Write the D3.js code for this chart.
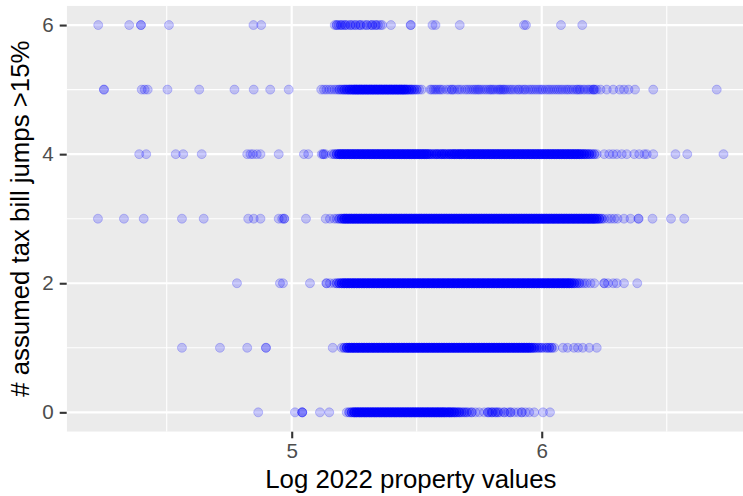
<!DOCTYPE html>
<html>
<head>
<meta charset="utf-8">
<script src="https://cdn.jsdelivr.net/npm/d3@7"></script>
<style>
  html, body { margin: 0; padding: 0; background: #ffffff; }
  svg { display: block; }
</style>
</head>
<body>
<svg id="chart" width="743" height="496"></svg>
<script>
// Axis labels and ticks
const xTitle = "Log 2022 property values";
const yTitle = "# assumed tax bill jumps >15%";
const xTickValues = [5, 6];
const yTickValues = [0, 2, 4, 6];
const xMinorValues = [4.5, 5.5, 6.5];
const yMinorValues = [1, 3, 5];

// Each entry: [log10 of 2022 property value, number of properties at that value]
const jumps0 = [
  [4.866,1],[5.013,1],[5.042,3],[5.113,1],[5.150,1],
  [5.22,1],[5.23,2],[5.24,3],[5.25,5],[5.26,5],[5.27,5],[5.28,5],[5.29,5],[5.30,5],
  [5.31,5],[5.32,5],[5.33,5],[5.34,5],[5.35,5],[5.36,5],[5.37,5],[5.38,5],[5.39,5],[5.40,5],
  [5.41,5],[5.42,5],[5.43,5],[5.44,5],[5.45,5],[5.46,5],[5.47,5],[5.48,5],[5.49,5],[5.50,5],
  [5.51,5],[5.52,5],[5.53,5],[5.54,5],[5.55,5],[5.56,5],[5.57,5],[5.58,5],[5.59,5],[5.60,5],
  [5.61,5],[5.62,4],[5.63,5],[5.64,4],[5.65,4],[5.66,3],[5.67,3],[5.68,2],[5.69,2],
  [5.70,2],[5.71,1],[5.72,2],[5.735,1],[5.75,1],[5.77,1],[5.785,2],[5.79,1],[5.80,2],
  [5.805,1],[5.815,2],[5.825,2],[5.835,1],[5.85,2],[5.865,1],[5.875,2],[5.89,1],[5.905,1],
  [5.92,2],[5.935,1],[5.95,1],[5.97,1],[6.005,1],[6.033,1]
];
const jumps1 = [
  [4.561,1],[4.713,1],[4.822,1],[4.897,2],[5.164,1],
  [5.20,1],[5.21,2],[5.22,4],[5.23,5],[5.24,5],[5.25,5],[5.26,5],[5.27,5],[5.28,5],[5.29,5],[5.30,5],
  [5.31,5],[5.32,5],[5.33,5],[5.34,5],[5.35,5],[5.36,5],[5.37,5],[5.38,5],[5.39,5],[5.40,5],
  [5.41,5],[5.42,5],[5.43,5],[5.44,5],[5.45,5],[5.46,5],[5.47,5],[5.48,5],[5.49,5],[5.50,5],
  [5.51,5],[5.52,5],[5.53,5],[5.54,5],[5.55,5],[5.56,5],[5.57,5],[5.58,5],[5.59,5],[5.60,5],
  [5.61,5],[5.62,5],[5.63,5],[5.64,5],[5.65,5],[5.66,5],[5.67,5],[5.68,5],[5.69,5],[5.70,5],
  [5.71,5],[5.72,5],[5.73,5],[5.74,5],[5.75,5],[5.76,5],[5.77,5],[5.78,5],[5.79,5],[5.80,5],
  [5.81,5],[5.82,5],[5.83,5],[5.84,5],[5.85,5],[5.86,5],[5.87,5],[5.88,5],[5.89,5],[5.90,5],
  [5.91,5],[5.92,5],[5.93,5],[5.94,5],[5.95,5],[5.96,4],[5.97,3],[5.98,2],[5.99,2],[6.00,2],
  [6.01,1],[6.02,2],[6.03,2],[6.04,2],[6.05,1],
  [6.085,1],[6.103,1],[6.129,1],[6.145,1],[6.164,1],[6.19,1],[6.22,1]
];
const jumps2 = [
  [4.781,1],[4.953,1],[4.965,1],[5.073,1],[5.139,2],[5.153,1],
  [5.17,1],[5.18,2],[5.19,3],[5.20,4],
  [5.21,5],[5.22,5],[5.23,5],[5.24,5],[5.25,5],[5.26,5],[5.27,5],[5.28,5],[5.29,5],[5.30,5],
  [5.31,5],[5.32,5],[5.33,5],[5.34,5],[5.35,5],[5.36,5],[5.37,5],[5.38,5],[5.39,5],[5.40,5],
  [5.41,5],[5.42,5],[5.43,5],[5.44,5],[5.45,5],[5.46,5],[5.47,5],[5.48,5],[5.49,5],[5.50,5],
  [5.51,5],[5.52,5],[5.53,5],[5.54,5],[5.55,5],[5.56,5],[5.57,5],[5.58,5],[5.59,5],[5.60,5],
  [5.61,5],[5.62,5],[5.63,5],[5.64,5],[5.65,5],[5.66,5],[5.67,5],[5.68,5],[5.69,5],[5.70,5],
  [5.71,5],[5.72,5],[5.73,5],[5.74,5],[5.75,5],[5.76,5],[5.77,5],[5.78,5],[5.79,5],[5.80,5],
  [5.81,5],[5.82,5],[5.83,5],[5.84,5],[5.85,5],[5.86,5],[5.87,5],[5.88,5],[5.89,5],[5.90,5],
  [5.91,5],[5.92,5],[5.93,5],[5.94,5],[5.95,5],[5.96,5],[5.97,5],[5.98,5],[5.99,5],[6.00,5],
  [6.01,5],[6.02,5],[6.03,5],[6.04,5],[6.05,5],[6.06,5],[6.07,5],[6.08,5],[6.09,5],[6.10,5],
  [6.11,5],[6.12,4],[6.13,3],[6.14,2],[6.15,2],[6.16,1],[6.17,1],[6.18,1],[6.195,1],[6.21,1],
  [6.25,2],[6.265,1],[6.286,1],[6.30,1],[6.329,1],[6.382,1]
];
const jumps3 = [
  [4.225,1],[4.329,1],[4.408,1],[4.561,1],[4.648,1],[4.826,1],[4.848,1],[4.875,1],
  [4.948,1],[4.962,1],[4.970,2],[5.057,1],[5.136,1],[5.153,1],[5.17,1],
  [5.18,1],[5.19,2],[5.20,3],
  [5.21,5],[5.22,5],[5.23,5],[5.24,5],[5.25,5],[5.26,5],[5.27,5],[5.28,5],[5.29,5],[5.30,5],
  [5.31,5],[5.32,5],[5.33,5],[5.34,5],[5.35,5],[5.36,5],[5.37,5],[5.38,5],[5.39,5],[5.40,5],
  [5.41,5],[5.42,5],[5.43,5],[5.44,5],[5.45,5],[5.46,5],[5.47,5],[5.48,5],[5.49,5],[5.50,5],
  [5.51,5],[5.52,5],[5.53,5],[5.54,5],[5.55,5],[5.56,5],[5.57,5],[5.58,5],[5.59,5],[5.60,5],
  [5.61,5],[5.62,5],[5.63,5],[5.64,5],[5.65,5],[5.66,5],[5.67,5],[5.68,5],[5.69,5],[5.70,5],
  [5.71,5],[5.72,5],[5.73,5],[5.74,5],[5.75,5],[5.76,5],[5.77,5],[5.78,5],[5.79,5],[5.80,5],
  [5.81,5],[5.82,5],[5.83,5],[5.84,5],[5.85,5],[5.86,5],[5.87,5],[5.88,5],[5.89,5],[5.90,5],
  [5.91,5],[5.92,5],[5.93,5],[5.94,5],[5.95,5],[5.96,5],[5.97,5],[5.98,5],[5.99,5],[6.00,5],
  [6.01,5],[6.02,5],[6.03,5],[6.04,5],[6.05,5],[6.06,5],[6.07,5],[6.08,5],[6.09,5],[6.10,5],
  [6.11,5],[6.12,5],[6.13,5],[6.14,5],[6.15,5],[6.16,5],[6.17,5],[6.18,5],[6.19,5],[6.20,5],
  [6.21,5],[6.22,4],[6.23,3],[6.24,2],[6.25,1],
  [6.265,1],[6.277,1],[6.29,1],[6.303,1],[6.329,1],[6.355,1],[6.387,2],[6.443,1],[6.517,1],[6.570,1]
];
const jumps4 = [
  [4.390,1],[4.418,1],[4.536,1],[4.566,1],[4.640,1],[4.822,1],[4.835,1],[4.845,1],[4.860,1],
  [4.875,1],[4.948,1],[5.049,1],[5.066,1],[5.120,1],[5.127,2],[5.135,1],
  [5.16,1],[5.17,2],[5.18,3],
  [5.19,5],[5.20,5],[5.21,5],[5.22,5],[5.23,5],[5.24,5],[5.25,5],[5.26,5],[5.27,5],[5.28,5],
  [5.29,5],[5.30,5],[5.31,5],[5.32,5],[5.33,5],[5.34,5],[5.35,5],[5.36,5],[5.37,5],[5.38,5],
  [5.39,5],[5.40,5],[5.41,5],[5.42,5],[5.43,5],[5.44,5],[5.45,5],[5.46,5],[5.47,5],[5.48,5],
  [5.49,5],[5.50,5],[5.51,5],[5.52,5],[5.53,5],[5.54,5],[5.55,4],[5.56,3],[5.57,3],[5.58,4],
  [5.59,3],[5.60,4],[5.61,4],[5.62,3],[5.63,4],[5.64,4],[5.65,5],[5.66,4],[5.67,5],[5.68,5],
  [5.69,4],[5.70,5],
  [5.71,5],[5.72,5],[5.73,5],[5.74,5],[5.75,5],[5.76,5],[5.77,5],[5.78,5],[5.79,5],[5.80,5],
  [5.81,5],[5.82,5],[5.83,5],[5.84,5],[5.85,5],[5.86,5],[5.87,5],[5.88,5],[5.89,5],[5.90,5],
  [5.91,5],[5.92,5],[5.93,5],[5.94,5],[5.95,5],[5.96,5],[5.97,5],[5.98,5],[5.99,5],[6.00,5],
  [6.01,5],[6.02,5],[6.03,5],[6.04,5],[6.05,5],[6.06,5],[6.07,5],[6.08,5],[6.09,5],[6.10,5],
  [6.11,5],[6.12,5],[6.13,5],[6.14,5],[6.15,5],[6.16,4],[6.17,4],[6.18,3],[6.19,3],[6.20,2],
  [6.21,2],[6.22,1],
  [6.25,1],[6.27,1],[6.285,1],[6.30,1],[6.32,1],[6.34,1],[6.37,1],[6.39,1],[6.41,1],[6.42,1],
  [6.446,1],[6.535,1],[6.582,1],[6.727,1]
];
const jumps5 = [
  [4.249,2],[4.400,1],[4.412,1],[4.424,1],[4.503,1],[4.630,1],[4.771,1],[4.848,1],[4.914,1],[4.988,1],
  [5.118,1],[5.129,1],[5.139,1],[5.150,1],[5.160,1],[5.171,1],
  [5.18,1],[5.19,2],[5.20,2],[5.21,3],[5.22,3],[5.23,4],[5.24,4],
  [5.25,5],[5.26,5],[5.27,5],[5.28,5],[5.29,5],[5.30,5],[5.31,5],[5.32,5],[5.33,5],[5.34,5],
  [5.35,5],[5.36,5],[5.37,5],[5.38,5],[5.39,5],[5.40,5],[5.41,5],[5.42,5],[5.43,5],[5.44,5],
  [5.45,5],[5.46,4],[5.47,3],[5.48,3],[5.49,2],[5.50,2],[5.51,1],[5.52,1],
  [5.554,1],[5.560,1],[5.568,1],[5.575,1],[5.582,1],[5.590,1],[5.596,1],[5.605,1],[5.620,1],
  [5.630,1],[5.641,2],[5.650,1],[5.662,1],[5.670,1],[5.680,1],[5.693,1],[5.702,1],
  [5.711,1],[5.720,1],[5.728,1],[5.735,1],[5.742,1],[5.748,1],[5.754,1],[5.763,1],[5.772,1],
  [5.780,1],[5.789,1],[5.795,1],[5.801,1],[5.807,1],[5.815,1],[5.824,1],[5.830,1],[5.835,1],
  [5.841,1],[5.847,1],[5.852,1],[5.859,1],[5.868,1],[5.876,1],[5.884,1],[5.894,1],[5.905,1],
  [5.910,1],[5.920,1],[5.929,1],[5.935,1],[5.946,1],[5.955,1],[5.963,1],[5.972,1],[5.981,1],
  [5.990,1],[5.998,1],[6.005,1],[6.016,1],[6.025,1],[6.033,1],[6.042,1],[6.051,1],[6.060,1],
  [6.068,1],[6.077,1],[6.085,1],[6.095,1],[6.103,1],[6.110,1],[6.120,1],[6.128,1],[6.138,1],
  [6.143,1],[6.150,1],[6.155,1],[6.165,1],[6.172,1],[6.183,1],[6.190,1],[6.198,1],[6.207,2],
  [6.212,1],[6.220,1],[6.235,1],[6.260,1],[6.286,1],[6.312,1],[6.329,1],[6.347,1],[6.373,1],
  [6.446,1],[6.700,1]
];
const jumps6 = [
  [4.226,1],[4.350,1],[4.397,2],[4.509,1],[4.847,1],[4.878,1],
  [5.172,1],[5.180,2],[5.188,1],[5.197,2],[5.205,1],[5.214,2],[5.223,1],[5.235,2],[5.244,1],
  [5.255,2],[5.268,1],[5.275,2],[5.288,1],[5.300,2],[5.314,1],[5.322,2],[5.336,2],[5.345,1],
  [5.355,1],[5.362,1],[5.397,1],[5.476,2],[5.563,1],[5.575,1],[5.672,1],[5.929,1],[5.937,1],
  [6.077,1],[6.162,1]
];
const jumpLevels = [0, 1, 2, 3, 4, 5, 6];
const rowsByLevel = [jumps0, jumps1, jumps2, jumps3, jumps4, jumps5, jumps6];

// Layout
const W = 743, H = 496;
const panel = { left: 66.7, top: 5.7, right: 755, bottom: 431.7 };
const xDomain = [4.1, 6.853];
const yDomain = [-0.3, 6.3];
const FONT = "'Liberation Sans', Arial, Helvetica, sans-serif";

const svg = d3.select("#chart");
const x = d3.scaleLinear().domain(xDomain).range([panel.left, panel.right]);
const y = d3.scaleLinear().domain(yDomain).range([panel.bottom, panel.top]);

svg.append("rect").attr("x", 0).attr("y", 0).attr("width", W).attr("height", H).attr("fill", "#ffffff");

svg.append("defs").append("clipPath").attr("id", "panel-clip")
  .append("rect")
  .attr("x", panel.left).attr("y", panel.top)
  .attr("width", panel.right - panel.left).attr("height", panel.bottom - panel.top);

const plot = svg.append("g").attr("clip-path", "url(#panel-clip)");

// Panel background
plot.append("rect")
  .attr("x", panel.left).attr("y", panel.top)
  .attr("width", panel.right - panel.left).attr("height", panel.bottom - panel.top)
  .attr("fill", "#EBEBEB");

// Grid lines: minor first, then major
plot.selectAll("line.xminor").data(xMinorValues).join("line")
  .attr("x1", d => x(d)).attr("x2", d => x(d))
  .attr("y1", panel.top).attr("y2", panel.bottom)
  .attr("stroke", "#ffffff").attr("stroke-width", 1.1);
plot.selectAll("line.yminor").data(yMinorValues).join("line")
  .attr("y1", d => y(d)).attr("y2", d => y(d))
  .attr("x1", panel.left).attr("x2", panel.right)
  .attr("stroke", "#ffffff").attr("stroke-width", 1.1);
plot.selectAll("line.xmajor").data(xTickValues).join("line")
  .attr("x1", d => x(d)).attr("x2", d => x(d))
  .attr("y1", panel.top).attr("y2", panel.bottom)
  .attr("stroke", "#ffffff").attr("stroke-width", 2.2);
plot.selectAll("line.ymajor").data(yTickValues).join("line")
  .attr("y1", d => y(d)).attr("y2", d => y(d))
  .attr("x1", panel.left).attr("x2", panel.right)
  .attr("stroke", "#ffffff").attr("stroke-width", 2.2);

// One circle per property
const points = [];
rowsByLevel.forEach((row, i) => {
  row.forEach(([v, n]) => {
    for (let k = 0; k < n; k++) points.push({ value: v, jumps: jumpLevels[i] });
  });
});

plot.append("g").selectAll("circle").data(points).join("circle")
  .attr("cx", d => x(d.value))
  .attr("cy", d => y(d.jumps))
  .attr("r", 4.5)
  .attr("fill", "#0000FF").attr("fill-opacity", 0.2)
  .attr("stroke", "#0000FF").attr("stroke-opacity", 0.2)
  .attr("stroke-width", 1);

// Axes
const xAxis = d3.axisBottom(x).tickValues(xTickValues).tickSize(6.6).tickPadding(5).tickFormat(d3.format("d"));
const yAxis = d3.axisLeft(y).tickValues(yTickValues).tickSize(7).tickPadding(6).tickFormat(d3.format("d"));

const gx = svg.append("g").attr("transform", `translate(0,${panel.bottom})`).call(xAxis);
const gy = svg.append("g").attr("transform", `translate(${panel.left},0)`).call(yAxis);

[gx, gy].forEach(g => {
  g.select(".domain").remove();
  g.selectAll(".tick line").attr("stroke", "#333333").attr("stroke-width", 2.1);
  g.selectAll(".tick text")
    .attr("fill", "#4D4D4D")
    .style("font-family", FONT)
    .style("font-size", "20.6px");
});

// Axis titles
svg.append("text")
  .attr("x", (panel.left + panel.right) / 2)
  .attr("y", 488)
  .attr("text-anchor", "middle")
  .style("font-family", FONT)
  .style("font-size", "25.8px")
  .attr("fill", "#000000")
  .text(xTitle);

svg.append("text")
  .attr("transform", `translate(29,${(panel.top + panel.bottom) / 2}) rotate(-90)`)
  .attr("text-anchor", "middle")
  .style("font-family", FONT)
  .style("font-size", "25.8px")
  .attr("fill", "#000000")
  .text(yTitle);
</script>
</body>
</html>
